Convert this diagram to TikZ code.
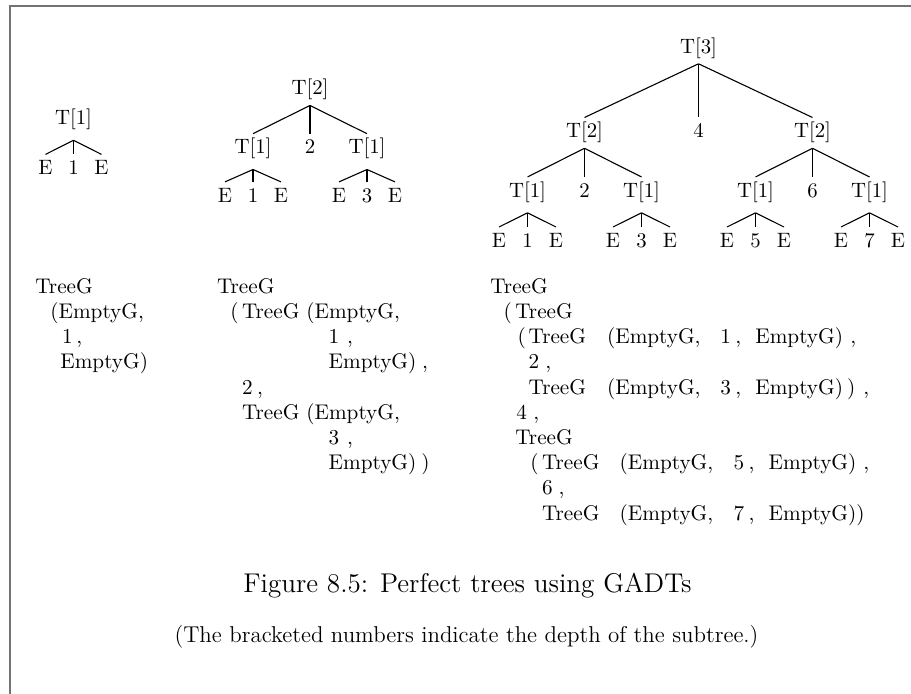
\documentclass[tikz,border=0pt]{standalone}
\usepackage{tikz}
\newlength\pxu
\setlength\pxu{0.5pt}
% a token set in a box of the given width (in picture units)
\newcommand\tk[2]{\makebox[#1\pxu][l]{#2}}
\begin{document}
\begin{tikzpicture}[x=0.5pt,y=-0.5pt,
  tn/.style={font=\fontsize{10.4pt}{12.5pt}\selectfont, inner sep=0pt,
             text height=7.8pt, text depth=2.6pt},
  code/.style={font=\fontsize{10.6pt}{12.6pt}\selectfont, inner sep=0pt, anchor=base west},
  branch/.style={line width=0.55pt},
  frame/.style={line width=1pt, draw=black!55}]
\useasboundingbox (0,0) rectangle (911,694);
\draw[frame] (9.5,694) -- (9.5,6) -- (911,6);

% ---- depth 1 tree
\node[tn] (a) at (73.5,119.5) {T[1]};
\node[tn] (al) at (45.5,169.4) {E};
\node[tn] (am) at (73.5,169.4) {1};
\node[tn] (ar) at (101.5,169.4) {E};
\foreach \k in {al,am,ar}
  \draw[branch] ([yshift=-5pt]a.south) -- ([yshift=2.1pt]\k.north);

% ---- depth 2 tree
\node[tn] (b) at (310,89.7) {T[2]};
\node[tn] (bl) at (253,148.7) {T[1]};
\node[tn] (bm) at (310,148.7) {2};
\node[tn] (br) at (367,148.7) {T[1]};
\node[tn] (bll) at (225,196.9) {E};
\node[tn] (blm) at (253,196.9) {1};
\node[tn] (blr) at (281,196.9) {E};
\node[tn] (brl) at (339,196.9) {E};
\node[tn] (brm) at (367,196.9) {3};
\node[tn] (brr) at (395,196.9) {E};
\foreach \k in {bl,bm,br}
  \draw[branch] ([yshift=-2.5pt]b.south) -- ([yshift=2.1pt]\k.north);
\foreach \k in {bll,blm,blr}
  \draw[branch] ([yshift=-5pt]bl.south) -- ([yshift=2.1pt]\k.north);
\foreach \k in {brl,brm,brr}
  \draw[branch] ([yshift=-5pt]br.south) -- ([yshift=2.1pt]\k.north);

% ---- depth 3 tree
\node[tn] (c) at (698.5,48) {T[3]};
\node[tn] (cl) at (584.5,132.5) {T[2]};
\node[tn] (cm) at (698.5,132.5) {4};
\node[tn] (cr) at (812.5,132.5) {T[2]};
\node[tn] (cll) at (527.5,192) {T[1]};
\node[tn] (clm) at (584.5,192) {2};
\node[tn] (clr) at (641.5,192) {T[1]};
\node[tn] (crl) at (755.5,192) {T[1]};
\node[tn] (crm) at (812.5,192) {6};
\node[tn] (crr) at (869.5,192) {T[1]};
\node[tn] (clll) at (499,242) {E};
\node[tn] (cllm) at (527.5,242) {1};
\node[tn] (cllr) at (556,242) {E};
\node[tn] (clrl) at (613,242) {E};
\node[tn] (clrm) at (641.5,242) {3};
\node[tn] (clrr) at (670,242) {E};
\node[tn] (crll) at (727,242) {E};
\node[tn] (crlm) at (755.5,242) {5};
\node[tn] (crlr) at (784,242) {E};
\node[tn] (crrl) at (841,242) {E};
\node[tn] (crrm) at (869.5,242) {7};
\node[tn] (crrr) at (898,242) {E};
\foreach \k in {cl,cm,cr}
  \draw[branch] ([yshift=-2.5pt]c.south) -- ([yshift=2.1pt]\k.north);
\foreach \p in {cl,cr}
  \foreach \k in {l,m,r}
    \draw[branch] ([yshift=-2.5pt]\p.south) -- ([yshift=2.1pt]\p\k.north);
\foreach \p in {cll,clr,crl,crr}
  \foreach \k in {l,m,r}
    \draw[branch] ([yshift=-5pt]\p.south) -- ([yshift=2.1pt]\p\k.north);

% ---- constructor terms
\node[code] (ta0) at (35,293.3) {TreeG};
\node[code] (ta1) at (50,318.5) {(EmptyG,};
\node[code] (ta2) at (61.7,343.7) {\tk{14.3}{1},};
\node[code] (ta3) at (60,368.9) {EmptyG)};

\node[code] (tb0) at (216.7,293.3) {TreeG};
\node[code] (tb1) at (230,318.5) {\tk{11.7}{(}\tk{64.3}{TreeG}(EmptyG,};
\node[code] (tb2) at (328.3,343.7) {\tk{18.4}{1},};
\node[code] (tb3) at (328.3,368.9) {\tk{93.4}{EmptyG)},};
\node[code] (tb4) at (241.7,394.1) {\tk{15}{2},};
\node[code] (tb5) at (241.7,419.3) {\tk{64.3}{TreeG}(EmptyG,};
\node[code] (tb6) at (328.3,444.5) {\tk{18.4}{3},};
\node[code] (tb7) at (328.3,469.7) {\tk{92.7}{EmptyG)})};

\node[code] (tc0) at (490,293.3) {TreeG};
\node[code] (tc1) at (503.3,318.5) {\tk{11.7}{(}TreeG};
\node[code] (tc2) at (517.3,343.7) {\tk{11}{(}\tk{78.4}{TreeG}\tk{113.3}{(EmptyG,}\tk{15}{1}\tk{20}{,}\tk{95}{EmptyG)},};
\node[code] (tc3) at (528.3,368.9) {\tk{16.7}{2},};
\node[code] (tc4) at (528.3,394.1) {\tk{78.4}{TreeG}\tk{113.3}{(EmptyG,}\tk{15}{3}\tk{20}{,}\tk{91.7}{EmptyG)}\tk{16.3}{)},};
\node[code] (tc5) at (516,419.3) {\tk{17}{4},};
\node[code] (tc6) at (515,444.5) {TreeG};
\node[code] (tc7) at (530,469.7) {\tk{11.7}{(}\tk{77.6}{TreeG}\tk{114}{(EmptyG,}\tk{15}{5}\tk{20}{,}\tk{94.7}{EmptyG)},};
\node[code] (tc8) at (541.7,494.9) {\tk{16.6}{6},};
\node[code] (tc9) at (541.7,520.1) {\tk{77.6}{TreeG}\tk{114}{(EmptyG,}\tk{15}{7}\tk{20}{,}EmptyG))};

% ---- caption
\node[inner sep=0pt, anchor=base, font=\fontsize{13.55pt}{16pt}\selectfont] (cap) at (467.5,592.3)
  {Figure 8.5: Perfect trees using GADTs};
\node[inner sep=0pt, anchor=base, font=\fontsize{11.45pt}{13.5pt}\selectfont] (note) at (466.5,642.5)
  {(The bracketed numbers indicate the depth of the subtree.)};
\end{tikzpicture}
\end{document}
